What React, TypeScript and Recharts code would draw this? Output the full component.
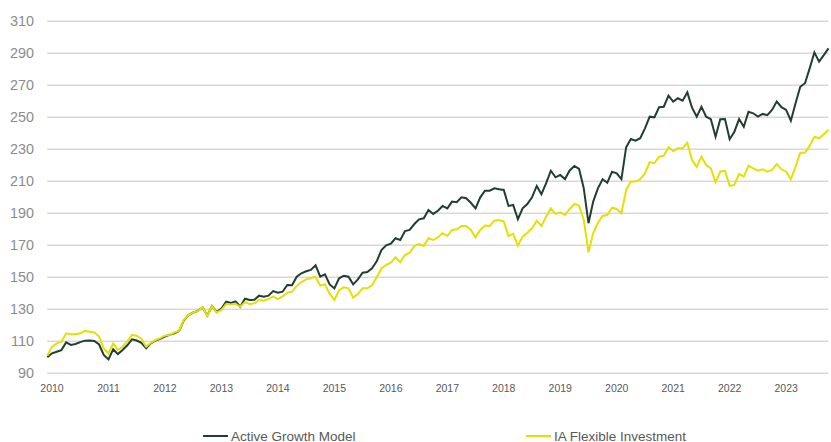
import { LineChart, Line, XAxis, YAxis, CartesianGrid, Legend } from 'recharts'

// Monthly index values, Dec 2009 = 100, through Oct 2023
const monthNames = ['Jan', 'Feb', 'Mar', 'Apr', 'May', 'Jun', 'Jul', 'Aug', 'Sep', 'Oct', 'Nov', 'Dec']
const years = [2009, 2010, 2011, 2012, 2013, 2014, 2015, 2016, 2017, 2018, 2019, 2020, 2021, 2022, 2023]

const activeGrowth = [
  100, 102.5, 103.5, 104.5, 109.3, 107.7, 108.3, 109.5, 110.4, 110.5,
  110.2, 108, 101.5, 98.7, 105, 102, 104.6, 107.5, 111.2, 110.5,
  109, 105.6, 108.7, 110.5, 111.5, 113, 114, 115, 116.5, 123,
  126.4, 128, 129, 131.2, 126, 132, 128.3, 130.5, 134.8, 134,
  135, 131.6, 136.6, 135.8, 136, 138.5, 137.9, 138.5, 141.4, 140.4,
  141, 145.2, 145, 150.4, 152.5, 153.8, 154.6, 157.5, 150.4, 151.8,
  145.5, 143, 149.4, 151, 150.4, 145.6, 148.7, 152.9, 153.3, 155.6,
  160, 167, 170, 171, 174.4, 173.3, 178.9, 179.6, 183.3, 186.2,
  186.9, 192.1, 189.6, 191.6, 194.6, 193.1, 197.3, 196.9, 200, 199.4,
  196.6, 193.1, 200, 204.1, 204.1, 205.6, 205, 204.6, 194.6, 195.2,
  186.3, 193.1, 195.8, 200, 207.1, 201.9, 208.8, 216.6, 212.5, 214,
  211.4, 216.8, 219.6, 217.7, 205.6, 183.8, 197.3, 205.6, 211.3, 209.1,
  216, 215, 211.4, 231.3, 236.4, 235.4, 236.9, 243.1, 250.4, 250,
  256.3, 256.6, 263.5, 259.8, 261.9, 260.4, 265.6, 256, 250.4, 256.6,
  250.4, 248.8, 237.9, 248.8, 248.9, 236.3, 241, 248.9, 244.1, 253.5,
  252.5, 250.4, 252.1, 251.3, 254.6, 259.8, 256.3, 254.6, 247.9, 258.8,
  269.1, 271.3, 280.6, 290.6, 284.8, 288.9, 293.1,
]

const iaFlexible = [
  101, 106.5, 108.7, 109.8, 115, 114.4, 114.4, 115, 116.5, 116,
  115.5, 113, 105.6, 102.5, 108.7, 104.6, 106.6, 110, 114, 113.5,
  111.5, 106.6, 109, 110.8, 112, 113.5, 114, 115.5, 116.6, 123.3,
  126.4, 128.1, 128.9, 131.2, 125.8, 132, 127.9, 129.6, 133.3, 133,
  133.5, 131.6, 134.4, 133.3, 133.8, 135.8, 135.4, 136.5, 137.9, 136.4,
  138, 140.4, 141, 144.6, 147, 148.7, 149.4, 150.4, 144.8, 145.6,
  139.6, 135.8, 142, 143.7, 143.1, 137.3, 139.6, 143.1, 143.1, 145,
  150, 155.5, 157.7, 159.1, 162.5, 159.4, 163.9, 165.4, 169.6, 170.8,
  169.6, 174.4, 173.3, 175, 177.5, 175.8, 179.6, 180, 182.1, 182.1,
  179.6, 175, 179.6, 182.3, 182.1, 185.4, 185.8, 184.8, 175.8, 177.1,
  169.8, 175.4, 177.9, 180.6, 185.4, 182.1, 187.9, 193.1, 189.6, 190.6,
  188.9, 192.7, 195.8, 194.8, 185.8, 165.6, 177.5, 184.1, 188.3, 188.9,
  193.5, 192.7, 190, 204.6, 209.8, 209.8, 211.3, 215, 221.9, 221.3,
  225.4, 226, 231.3, 228.9, 230.6, 230.6, 234.1, 223.3, 219, 225.4,
  220.2, 218.1, 209.4, 216, 216.6, 207.1, 207.7, 214.6, 212.9, 219.8,
  218.1, 216.6, 217.5, 216, 217.1, 220.8, 217.5, 216, 211.3, 219.1,
  227.9, 227.9, 232.1, 237.9, 236.9, 239.4, 242.1,
]

const yTicks = [90, 110, 130, 150, 170, 190, 210, 230, 250, 270, 290, 310]

// month labels starting Dec 2009
const months = years
  .flatMap(y => monthNames.map(m => `${m} ${y}`))
  .slice(11, 11 + activeGrowth.length)

const yearTicks = months.filter(m => m.startsWith('Jan'))

const data = months.map((m, i) => ({
  month: m,
  active: activeGrowth[i],
  flexible: iaFlexible[i],
}))

const DARK = '#213e30'
const YELLOW = '#e4e000'
const FONT = '"Liberation Sans", Arial, sans-serif'

const LegendContent = () => {
  const items = [
    { name: 'Active Growth Model', color: DARK, left: 203 },
    { name: 'IA Flexible Investment', color: YELLOW, left: 526 },
  ]
  return (
    <div style={{ position: 'relative', width: 831, height: 20 }}>
      {items.map(it => (
        <div
          key={it.name}
          style={{
            position: 'absolute', left: it.left, top: 0, height: 20,
            display: 'flex', alignItems: 'center',
            fontFamily: FONT, fontSize: 13.5, color: '#595959', whiteSpace: 'nowrap',
          }}
        >
          <span style={{ display: 'inline-block', width: 25, height: 2, background: it.color, marginRight: 3 }} />
          {it.name}
        </div>
      ))}
    </div>
  )
}

export default function App() {
  return (
    <div style={{ width: 831, height: 442, background: '#fff' }}>
      <style>{'body{margin:0}'}</style>
      <LineChart
        width={831}
        height={442}
        data={data}
        margin={{ top: 21.3, right: 2.5, bottom: 18.7, left: 0 }}
      >
        <CartesianGrid vertical={false} stroke="#d9d9d9" strokeWidth={1.5} />
        <XAxis
          dataKey="month"
          ticks={yearTicks}
          tickFormatter={(v: string) => v.slice(4)}
          axisLine={false}
          tickLine={false}
          tickSize={0}
          tickMargin={11}
          height={30}
          interval={0}
          tick={{ fontSize: 10.5, fill: '#595959', fontFamily: FONT }}
        />
        <YAxis
          domain={[90, 310]}
          ticks={yTicks}
          width={47.3}
          axisLine={false}
          tickLine={false}
          tickSize={0}
          tickMargin={13.3}
          interval={0}
          tick={{ fontSize: 14.4, fill: '#8c8c8c', fontFamily: FONT }}
        />
        <Legend
          verticalAlign="bottom"
          height={20}
          content={() => <LegendContent />}
          wrapperStyle={{ top: 426, left: 0, bottom: 'auto', width: 831 }}
        />
        <Line
          type="linear"
          dataKey="active"
          name="Active Growth Model"
          stroke={DARK}
          strokeWidth={2}
          dot={false}
          isAnimationActive={false}
        />
        <Line
          type="linear"
          dataKey="flexible"
          name="IA Flexible Investment"
          stroke={YELLOW}
          strokeWidth={2}
          dot={false}
          isAnimationActive={false}
        />
      </LineChart>
    </div>
  )
}
